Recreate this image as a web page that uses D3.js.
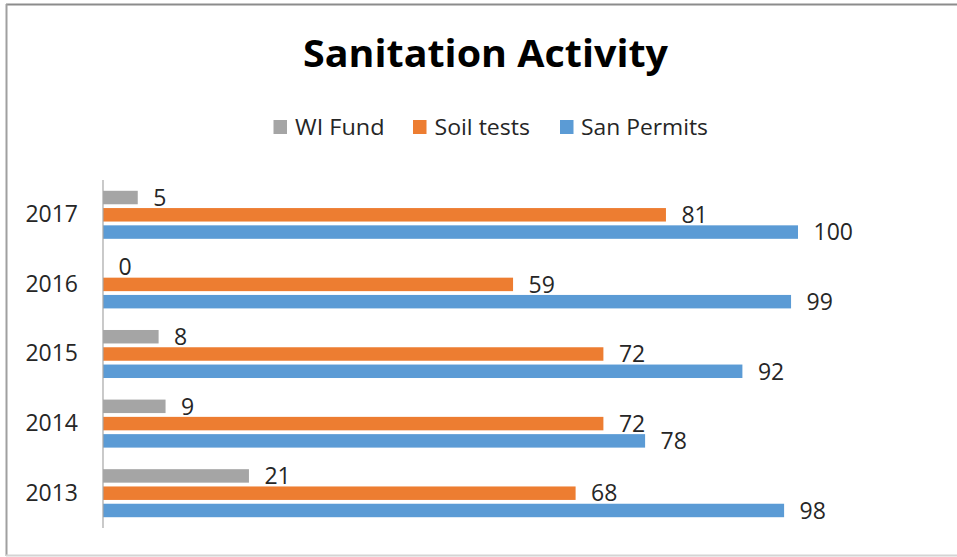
<!DOCTYPE html>
<html><head><meta charset="utf-8">
<script src="https://cdn.jsdelivr.net/npm/d3@7"></script>
<style>html,body{margin:0;padding:0;background:#fff;}svg{display:block;}</style>
</head><body>
<svg id="chart" width="957" height="557"></svg>
<script>
const years = ["2013","2014","2015","2016","2017"];
const seriesNames = ["WI Fund","Soil tests","San Permits"];
const seriesColors = ["#A5A5A5","#ED7D31","#5B9BD5"];
const wiFund = [21, 9, 8, 0, 5];
const soilTests = [68, 72, 72, 59, 81];
const sanPermits = [98, 78, 92, 99, 100];
const seriesValues = [wiFund, soilTests, sanPermits];

const svg = d3.select("#chart");
const font = "'Open Sans', sans-serif";
const textCol = "#262626";

// frame
svg.append("line").attr("x1",6).attr("x2",957).attr("y1",4.5).attr("y2",4.5).attr("stroke","#8c8c8c").attr("stroke-width",2);
svg.append("line").attr("x1",6.5).attr("x2",6.5).attr("y1",4).attr("y2",556).attr("stroke","#a0a0a0").attr("stroke-width",2);
svg.append("line").attr("x1",6).attr("x2",957).attr("y1",555.5).attr("y2",555.5).attr("stroke","#d4d4d4").attr("stroke-width",2);

// title
svg.append("text").attr("x",485.5).attr("y",67).attr("text-anchor","middle")
  .attr("font-family",font).attr("font-weight","bold").attr("font-size",38)
  .attr("fill","#000").attr("textLength",365).attr("lengthAdjust","spacingAndGlyphs")
  .text("Sanitation Activity");

// legend
const legendPos = [{sx:273.5, tx:295, tw:89.5},{sx:413, tx:434.5, tw:95.5},{sx:560, tx:581, tw:127}];
const lg = svg.append("g");
seriesNames.forEach((n,i)=>{
  lg.append("rect").attr("x",legendPos[i].sx).attr("y",120).attr("width",13.5).attr("height",14).attr("fill",seriesColors[i]);
  lg.append("text").attr("x",legendPos[i].tx).attr("y",134.5).attr("font-family",font).attr("font-size",21)
    .attr("fill",textCol).attr("textLength",legendPos[i].tw).attr("lengthAdjust","spacingAndGlyphs").text(n);
});

// scales
const x = d3.scaleLinear().domain([0,120]).range([103,937]);
const y0 = d3.scaleBand().domain(years.slice().reverse()).range([180,528]).paddingInner(0.31).paddingOuter(0.155);
const y1 = d3.scaleBand().domain(seriesNames).range([0,y0.bandwidth()]).paddingInner(0.22).paddingOuter(0);

// category axis
const yAxis = d3.axisLeft(y0).tickSize(0).tickPadding(25);
const ag = svg.append("g").attr("transform","translate(103,0)").call(yAxis);
ag.select(".domain").remove();
ag.selectAll("text").attr("font-family",font).attr("font-size",23).attr("fill",textCol);

const rows = [];
years.forEach((yr,yi)=>seriesNames.forEach((s,si)=>rows.push({year:yr,series:s,si:si,value:seriesValues[si][yi]})));

svg.append("g").selectAll("rect").data(rows).join("rect")
  .attr("x",x(0)).attr("y",d=>y0(d.year)+y1(d.series))
  .attr("width",d=>x(d.value)-x(0)).attr("height",y1.bandwidth())
  .attr("fill",d=>seriesColors[d.si]);

svg.append("g").selectAll("text").data(rows).join("text")
  .attr("x",d=>x(d.value)+15.5).attr("y",d=>y0(d.year)+y1(d.series)+y1.bandwidth()/2)
  .attr("dy","0.36em").attr("font-family",font).attr("font-size",23).attr("fill",textCol)
  .text(d=>d.value);

// axis line
svg.append("line").attr("x1",103).attr("x2",103).attr("y1",180).attr("y2",528).attr("stroke","#a6a6a6").attr("stroke-width",1.2);
</script>
</body></html>
